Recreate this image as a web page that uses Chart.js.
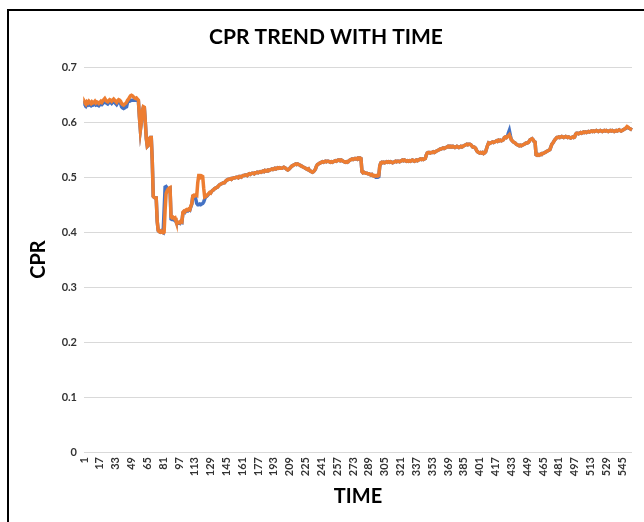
<!DOCTYPE html>
<html>
<head>
<meta charset="utf-8">
<script src="https://cdn.jsdelivr.net/npm/chart.js@4/dist/chart.umd.min.js"></script>
<style>
  html, body { margin: 0; padding: 0; background: #ffffff; }
  #wrap { position: relative; width: 644px; height: 522px; overflow: hidden; }
  #frame { position: absolute; left: 7px; top: 9px; width: 700px; height: 600px;
           border-left: 2px solid #000; border-top: 2px solid #000; box-sizing: border-box; }
  #c { position: absolute; left: 0; top: 0; }
</style>
</head>
<body>
<div id="wrap">
  <div id="frame"></div>
  <canvas id="c" width="644" height="522"></canvas>
</div>
<script>
// Series (CPR value at each TIME step)
const cprOrange = [
0.634,0.636,0.633,0.637,0.635,0.638,0.636,0.634,0.637,0.635,0.636,0.638,0.635,0.637,0.636,0.634,
0.636,0.638,0.636,0.639,0.641,0.643,0.640,0.638,0.637,0.639,0.641,0.640,0.638,0.640,0.642,0.640,
0.638,0.636,0.639,0.641,0.640,0.638,0.634,0.632,0.631,0.633,0.634,0.636,0.640,0.642,0.645,0.648,
0.649,0.648,0.646,0.644,0.643,0.644,0.642,0.640,0.610,0.586,0.600,0.620,0.628,0.627,0.600,0.570,
0.556,0.558,0.570,0.572,0.572,0.530,0.465,0.463,0.462,0.462,0.420,0.403,0.401,0.400,0.402,0.400,
0.399,0.400,0.440,0.470,0.475,0.478,0.480,0.481,0.428,0.426,0.427,0.425,0.426,0.420,0.418,0.417,
0.418,0.417,0.420,0.419,0.436,0.438,0.437,0.440,0.441,0.440,0.442,0.441,0.447,0.452,0.466,0.467,
0.466,0.468,0.467,0.490,0.503,0.503,0.500,0.502,0.501,0.480,0.464,0.465,0.466,0.468,0.470,0.472,
0.471,0.474,0.476,0.477,0.479,0.480,0.481,0.482,0.484,0.486,0.487,0.488,0.489,0.490,0.490,0.492,
0.494,0.495,0.496,0.496,0.497,0.496,0.498,0.498,0.499,0.499,0.500,0.500,0.499,0.501,0.501,0.500,
0.502,0.503,0.503,0.504,0.504,0.503,0.505,0.506,0.505,0.506,0.507,0.507,0.506,0.508,0.508,0.509,
0.508,0.509,0.510,0.509,0.510,0.511,0.510,0.512,0.511,0.512,0.513,0.512,0.513,0.514,0.515,0.514,
0.515,0.516,0.515,0.516,0.517,0.516,0.517,0.516,0.516,0.517,0.518,0.517,0.516,0.514,0.513,0.514,
0.516,0.518,0.520,0.521,0.522,0.523,0.524,0.523,0.524,0.523,0.522,0.521,0.520,0.519,0.518,0.517,
0.516,0.515,0.514,0.515,0.512,0.511,0.510,0.509,0.510,0.512,0.515,0.520,0.523,0.524,0.525,0.526,
0.527,0.528,0.527,0.528,0.529,0.528,0.529,0.529,0.528,0.527,0.528,0.527,0.528,0.529,0.530,0.529,
0.530,0.531,0.531,0.530,0.531,0.530,0.529,0.528,0.527,0.528,0.527,0.528,0.530,0.531,0.532,0.533,
0.532,0.533,0.534,0.533,0.534,0.535,0.534,0.535,0.534,0.510,0.508,0.509,0.508,0.507,0.507,0.506,
0.506,0.505,0.504,0.505,0.503,0.502,0.503,0.502,0.503,0.502,0.503,0.520,0.526,0.527,0.526,0.527,
0.526,0.527,0.528,0.527,0.528,0.527,0.528,0.527,0.526,0.527,0.528,0.529,0.528,0.529,0.529,0.528,
0.529,0.530,0.531,0.530,0.531,0.530,0.529,0.530,0.529,0.530,0.529,0.530,0.531,0.530,0.529,0.530,
0.531,0.530,0.531,0.532,0.533,0.532,0.533,0.532,0.533,0.534,0.540,0.544,0.545,0.545,0.544,0.545,
0.545,0.546,0.545,0.546,0.547,0.548,0.549,0.550,0.551,0.551,0.552,0.553,0.552,0.553,0.554,0.555,
0.556,0.555,0.556,0.556,0.555,0.556,0.555,0.554,0.555,0.556,0.555,0.554,0.555,0.556,0.555,0.556,
0.557,0.558,0.559,0.560,0.559,0.560,0.560,0.559,0.557,0.555,0.555,0.554,0.552,0.548,0.546,0.545,
0.544,0.545,0.544,0.545,0.543,0.544,0.546,0.552,0.558,0.562,0.561,0.562,0.563,0.564,0.563,0.564,
0.565,0.566,0.565,0.567,0.566,0.567,0.566,0.567,0.568,0.572,0.573,0.572,0.574,0.575,0.577,0.572,
0.568,0.566,0.564,0.563,0.562,0.560,0.559,0.558,0.557,0.558,0.557,0.558,0.559,0.560,0.561,0.562,
0.562,0.563,0.565,0.568,0.569,0.570,0.568,0.565,0.564,0.541,0.540,0.541,0.540,0.541,0.542,0.543,
0.543,0.544,0.545,0.546,0.547,0.548,0.549,0.550,0.555,0.560,0.562,0.565,0.568,0.570,0.572,0.572,
0.573,0.572,0.573,0.574,0.573,0.572,0.573,0.574,0.573,0.572,0.573,0.572,0.571,0.572,0.573,0.572,
0.573,0.578,0.580,0.580,0.579,0.580,0.581,0.580,0.581,0.582,0.581,0.582,0.581,0.582,0.583,0.582,
0.583,0.584,0.583,0.584,0.583,0.584,0.585,0.584,0.583,0.584,0.585,0.584,0.583,0.584,0.585,0.584,
0.585,0.584,0.583,0.584,0.585,0.584,0.585,0.584,0.583,0.584,0.585,0.584,0.585,0.586,0.585,0.584,
0.585,0.586,0.587,0.588,0.590,0.592,0.591,0.589,0.588,0.587,0.586
];

const cprBlue = [
0.630,0.631,0.629,0.632,0.631,0.633,0.631,0.630,0.632,0.631,0.632,0.633,0.631,0.632,0.631,0.630,
0.632,0.633,0.632,0.634,0.636,0.638,0.636,0.634,0.633,0.635,0.637,0.636,0.634,0.636,0.638,0.636,
0.634,0.632,0.635,0.637,0.636,0.634,0.628,0.626,0.625,0.626,0.627,0.628,0.636,0.638,0.638,0.639,
0.640,0.640,0.640,0.640,0.640,0.640,0.640,0.638,0.610,0.586,0.600,0.620,0.627,0.626,0.600,0.570,
0.556,0.558,0.570,0.572,0.572,0.530,0.465,0.463,0.462,0.462,0.420,0.403,0.401,0.400,0.402,0.400,
0.399,0.440,0.482,0.483,0.480,0.478,0.478,0.479,0.424,0.423,0.423,0.422,0.423,0.419,0.417,0.416,
0.417,0.416,0.419,0.418,0.435,0.437,0.436,0.439,0.440,0.439,0.441,0.440,0.446,0.451,0.465,0.466,
0.465,0.460,0.452,0.450,0.450,0.451,0.450,0.451,0.452,0.455,0.460,0.464,0.465,0.467,0.469,0.471,
0.471,0.474,0.476,0.477,0.479,0.480,0.481,0.482,0.484,0.486,0.487,0.488,0.489,0.490,0.490,0.492,
0.494,0.495,0.496,0.496,0.497,0.496,0.498,0.498,0.499,0.499,0.500,0.500,0.499,0.501,0.501,0.500,
0.502,0.503,0.503,0.504,0.504,0.503,0.505,0.506,0.505,0.506,0.507,0.507,0.506,0.508,0.508,0.509,
0.508,0.509,0.510,0.509,0.510,0.511,0.510,0.512,0.511,0.512,0.513,0.512,0.513,0.514,0.515,0.514,
0.515,0.516,0.515,0.516,0.517,0.516,0.517,0.516,0.516,0.517,0.518,0.517,0.516,0.514,0.513,0.514,
0.516,0.518,0.520,0.521,0.522,0.523,0.524,0.523,0.524,0.523,0.522,0.521,0.520,0.519,0.518,0.517,
0.516,0.515,0.514,0.515,0.512,0.511,0.510,0.509,0.510,0.512,0.515,0.520,0.523,0.524,0.525,0.526,
0.527,0.528,0.527,0.528,0.529,0.528,0.529,0.529,0.528,0.527,0.528,0.527,0.528,0.529,0.530,0.529,
0.530,0.531,0.531,0.530,0.531,0.530,0.529,0.528,0.527,0.528,0.527,0.528,0.530,0.531,0.532,0.533,
0.532,0.533,0.534,0.533,0.534,0.535,0.534,0.535,0.534,0.510,0.508,0.509,0.508,0.507,0.507,0.506,
0.506,0.505,0.504,0.505,0.503,0.502,0.501,0.500,0.500,0.500,0.501,0.520,0.526,0.527,0.526,0.527,
0.526,0.527,0.528,0.527,0.528,0.527,0.528,0.527,0.526,0.527,0.528,0.529,0.528,0.529,0.529,0.528,
0.529,0.530,0.531,0.530,0.531,0.530,0.529,0.530,0.529,0.530,0.529,0.530,0.531,0.530,0.529,0.530,
0.531,0.530,0.531,0.532,0.533,0.532,0.533,0.532,0.533,0.534,0.540,0.544,0.545,0.545,0.544,0.545,
0.545,0.546,0.545,0.546,0.547,0.548,0.549,0.550,0.551,0.551,0.552,0.553,0.552,0.553,0.554,0.555,
0.556,0.555,0.556,0.556,0.555,0.556,0.555,0.554,0.555,0.556,0.555,0.554,0.555,0.556,0.555,0.556,
0.557,0.558,0.559,0.560,0.559,0.560,0.560,0.559,0.557,0.555,0.555,0.554,0.552,0.548,0.546,0.545,
0.544,0.545,0.544,0.545,0.543,0.544,0.546,0.552,0.558,0.562,0.561,0.562,0.563,0.564,0.563,0.564,
0.565,0.566,0.565,0.567,0.566,0.567,0.566,0.567,0.568,0.572,0.573,0.572,0.574,0.580,0.585,0.576,
0.568,0.566,0.564,0.563,0.562,0.560,0.559,0.558,0.557,0.558,0.557,0.558,0.559,0.560,0.561,0.562,
0.562,0.563,0.565,0.568,0.569,0.570,0.568,0.565,0.564,0.541,0.540,0.541,0.540,0.541,0.542,0.543,
0.543,0.544,0.545,0.546,0.547,0.548,0.549,0.550,0.555,0.560,0.562,0.565,0.568,0.570,0.572,0.572,
0.573,0.572,0.573,0.574,0.573,0.572,0.573,0.574,0.573,0.572,0.573,0.572,0.571,0.572,0.573,0.572,
0.573,0.578,0.580,0.580,0.579,0.580,0.581,0.580,0.581,0.582,0.581,0.582,0.581,0.582,0.583,0.582,
0.583,0.584,0.583,0.584,0.583,0.584,0.585,0.584,0.583,0.584,0.585,0.584,0.583,0.584,0.585,0.584,
0.585,0.584,0.583,0.584,0.585,0.584,0.585,0.584,0.583,0.584,0.585,0.584,0.585,0.586,0.585,0.584,
0.585,0.586,0.587,0.588,0.589,0.590,0.590,0.589,0.588,0.587,0.586
];

// Category labels (TIME steps) and the tick labels shown on the axes
const timeSteps = cprOrange.map((_, i) => String(i + 1));
const xTickLabels = ['1','17','33','49','65','81','97','113','129','145','161','177','193','209','225','241','257','273','289','305','321','337','353','369','385','401','417','433','449','465','481','497','513','529','545'];
const yTickLabels = ['0','0.1','0.2','0.3','0.4','0.5','0.6','0.7'];

const FONT = "Lato, 'Open Sans', 'Liberation Sans', sans-serif";

new Chart(document.getElementById('c'), {
  type: 'line',
  data: {
    labels: timeSteps,
    datasets: [
      { label: 'Series 1', data: cprBlue, borderColor: '#4472C4', borderWidth: 3.5, pointRadius: 0, tension: 0, order: 2, fill: false },
      { label: 'Series 2', data: cprOrange, borderColor: '#ED7D31', borderWidth: 3.5, pointRadius: 0, tension: 0, order: 1, fill: false }
    ]
  },
  options: {
    responsive: false,
    animation: false,
    events: [],
    layout: { padding: { top: 0, left: 20, right: 12, bottom: 13 } },
    plugins: {
      legend: { display: false },
      tooltip: { enabled: false },
      title: {
        display: true, text: 'CPR TREND WITH TIME', color: '#000',
        font: { family: FONT, size: 21, weight: 'bold' },
        padding: { top: 25, bottom: 17 }
      }
    },
    scales: {
      x: {
        type: 'category',
        offset: false,
        grid: { display: false, drawTicks: false },
        border: { display: false },
        ticks: {
          autoSkip: false, minRotation: 90, maxRotation: 90, padding: 5,
          color: '#333333', font: { family: FONT, size: 11, weight: 'bold' },
          callback: function (v, i) { const l = this.getLabelForValue(v); return xTickLabels.includes(l) ? l : null; }
        },
        title: { display: true, text: 'TIME', color: '#000', font: { family: FONT, size: 20, weight: 'bold' }, padding: { top: 0, bottom: 0 } },
        afterFit: (s) => { s.height = 57; }
      },
      y: {
        min: 0, max: 0.7,
        grid: { color: '#d9d9d9', lineWidth: 1, drawTicks: false },
        border: { display: false },
        ticks: {
          stepSize: 0.1, padding: 7, color: '#333333',
          font: { family: FONT, size: 11, weight: 'bold' },
          callback: (v, i) => yTickLabels[i]
        },
        title: { display: true, text: 'CPR', color: '#000', font: { family: FONT, size: 20, weight: 'bold' }, padding: { top: 7, bottom: 0 } },
        afterFit: (s) => { s.width = 64; }
      }
    }
  }
});
</script>
</body>
</html>
